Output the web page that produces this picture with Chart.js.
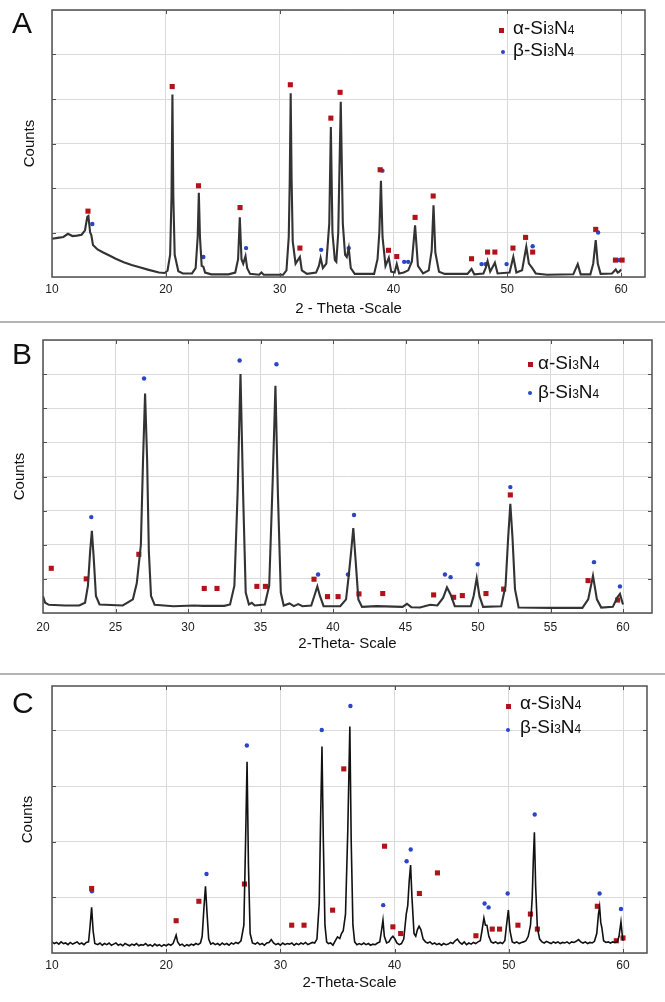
<!DOCTYPE html>
<html>
<head>
<meta charset="utf-8">
<script src="https://cdn.jsdelivr.net/npm/chart.js@4/dist/chart.umd.min.js"></script>
<style>
  body { margin: 0; background: #fff; }
  #wrap { position: relative; width: 665px; height: 1002px; background: #fff; font-family: "Liberation Sans", Arial, sans-serif; }
  canvas { position: absolute; left: 0; }
  .sep { position: absolute; left: 0; width: 665px; height: 2px; background: #b4b4b4; }
  .panel { position: absolute; left: 12px; font-size: 30px; line-height: 30px; color: #111; }
  .leg { position: absolute; font-size: 19px; line-height: 20px; color: #111; white-space: nowrap; }
  .leg small { font-size: 12px; }
  .sq { position: absolute; width: 5px; height: 5px; background: #b3121a; }
  .dot { position: absolute; width: 4px; height: 4px; border-radius: 50%; background: #2a45c8; }
</style>
</head>
<body>
<div id="wrap">
  <canvas id="chartA" width="665" height="322" style="top:0"></canvas>
  <div class="sep" style="top:321px"></div>
  <canvas id="chartB" width="665" height="351" style="top:323px"></canvas>
  <div class="sep" style="top:673px"></div>
  <canvas id="chartC" width="665" height="327" style="top:675px"></canvas>

  <div class="panel" style="top:8px">A</div>
  <div class="panel" style="top:339px">B</div>
  <div class="panel" style="top:688px">C</div>

  <div class="sq" style="left:499px;top:28px"></div>
  <div class="leg" style="left:513px;top:18px">α-Si<small>3</small>N<small>4</small></div>
  <div class="dot" style="left:501px;top:50px"></div>
  <div class="leg" style="left:513px;top:40px">β-Si<small>3</small>N<small>4</small></div>

  <div class="sq" style="left:528px;top:362px"></div>
  <div class="leg" style="left:538px;top:353px">α-Si<small>3</small>N<small>4</small></div>
  <div class="dot" style="left:528px;top:391px"></div>
  <div class="leg" style="left:538px;top:382px">β-Si<small>3</small>N<small>4</small></div>

  <div class="sq" style="left:506px;top:704px"></div>
  <div class="leg" style="left:520px;top:693px">α-Si<small>3</small>N<small>4</small></div>
  <div class="dot" style="left:506px;top:728px"></div>
  <div class="leg" style="left:520px;top:717px">β-Si<small>3</small>N<small>4</small></div>
</div>
<script>
// Panel A pattern (2theta, counts in grid units)
const curveA = [
  [10.0,0.86],[10.5,0.88],[11.0,0.9],[11.4,0.97],[11.8,0.92],[12.2,0.93],[12.6,0.95],[12.9,1.05],
  [13.1,1.35],[13.2,1.37],[13.35,1.0],[13.45,0.95],[13.6,0.72],[14.0,0.62],[14.5,0.55],[15.0,0.49],
  [15.6,0.41],[16.3,0.33],[17.0,0.27],[17.7,0.22],[18.5,0.16],[19.4,0.1],[19.9,0.09],
  [20.15,0.14],[20.38,0.5],[20.5,1.8],[20.58,4.1],[20.66,1.8],[20.78,0.5],[21.1,0.13],[21.5,0.08],[22.3,0.08],
  [22.62,0.2],[22.8,0.9],[22.9,1.89],[23.0,0.9],[23.15,0.25],[23.3,0.23],[23.45,0.1],[24.0,0.06],[25.5,0.06],
  [26.1,0.1],[26.35,0.4],[26.5,1.34],[26.65,0.4],[26.8,0.3],[27.0,0.47],[27.15,0.2],[27.4,0.07],
  [28.2,0.05],[28.4,0.1],[28.6,0.05],[30.3,0.05],
  [30.6,0.15],[30.8,0.9],[30.89,2.2],[30.97,4.13],[31.05,2.2],[31.15,0.8],[31.4,0.3],[31.78,0.45],[31.95,0.15],
  [32.4,0.07],[33.2,0.1],[33.45,0.25],[33.6,0.43],[33.8,0.2],[34.1,0.3],[34.36,1.2],[34.5,3.37],[34.64,1.0],
  [34.85,0.38],[34.98,0.34],[35.15,1.0],[35.37,3.94],[35.55,1.2],[35.75,0.5],[35.9,0.45],[36.07,0.65],
  [36.25,0.2],[36.6,0.07],[38.3,0.07],[38.6,0.4],[38.76,1.0],[38.9,2.16],[39.04,0.9],[39.3,0.25],[39.59,0.43],
  [39.8,0.12],[40.1,0.1],[40.29,0.29],[40.5,0.08],[40.9,0.1],[41.3,0.15],[41.62,0.35],[41.9,1.16],[42.15,0.25],
  [42.6,0.08],[43.1,0.15],[43.36,0.6],[43.52,1.61],[43.68,0.55],[44.0,0.12],[44.5,0.07],[46.5,0.07],
  [46.86,0.18],[47.1,0.06],[47.9,0.08],[48.1,0.2],[48.27,0.36],[48.5,0.12],[48.91,0.32],[49.15,0.08],
  [50.2,0.1],[50.53,0.45],[50.8,0.1],[51.3,0.15],[51.67,0.68],[51.9,0.3],[52.2,0.2],[52.5,0.08],[53.5,0.05],
  [55.8,0.06],[56.19,0.29],[56.45,0.06],[57.3,0.06],[57.55,0.3],[57.77,0.83],[57.95,0.3],[58.2,0.07],
  [59.2,0.08],[59.53,0.17],[59.7,0.1],[59.85,0.12],[60.0,0.17]
];
const alphaA = [
  [13.16,1.48],[20.56,4.28],[22.87,2.05],[26.52,1.56],[30.94,4.32],[31.78,0.65],[34.5,3.57],[35.31,4.15],
  [38.83,2.41],[39.56,0.6],[40.29,0.46],[41.9,1.34],[43.49,1.82],[46.86,0.41],[48.27,0.56],[48.91,0.56],
  [50.5,0.65],[51.61,0.89],[52.23,0.56],[57.77,1.07],[59.5,0.38],[60.09,0.38]
];
const betaA = [
  [13.54,1.19],[23.3,0.45],[27.05,0.65],[33.65,0.61],[36.07,0.65],[39.03,2.39],[40.94,0.34],[41.29,0.34],
  [47.74,0.29],[48.09,0.29],[49.94,0.29],[52.23,0.69],[57.98,1.0],[59.8,0.38]
];

// Panel B
const curveB = [
  [20.0,0.49],[20.15,0.3],[20.4,0.24],[21.5,0.22],[22.5,0.22],[22.9,0.3],[23.1,0.8],[23.25,1.8],[23.37,2.41],
  [23.5,1.6],[23.65,0.5],[23.9,0.25],[25.5,0.22],[26.2,0.4],[26.47,0.88],[26.75,2.0],[26.9,4.5],[27.04,6.43],
  [27.18,4.5],[27.3,1.8],[27.45,0.5],[27.7,0.24],[29.0,0.2],[30.4,0.22],[31.0,0.21],[32.5,0.21],[32.9,0.25],
  [33.2,0.8],[33.42,3.5],[33.62,7.0],[33.8,3.5],[33.98,0.6],[34.2,0.25],[34.4,0.3],[34.6,0.22],[35.3,0.25],
  [35.6,0.8],[35.85,4.0],[36.03,6.66],[36.2,3.5],[36.4,0.6],[36.6,0.22],[37.0,0.28],[37.3,0.2],[37.6,0.26],
  [37.9,0.2],[38.5,0.22],[38.75,0.55],[38.92,0.78],[39.1,0.5],[39.35,0.2],[40.5,0.2],[40.9,0.4],[41.08,1.07],
  [41.25,1.8],[41.4,2.49],[41.55,1.6],[41.75,0.4],[42.0,0.18],[43.0,0.2],[44.8,0.18],[45.1,0.27],[45.4,0.17],
  [46.0,0.16],[46.7,0.24],[47.2,0.22],[47.6,0.45],[47.86,0.75],[48.1,0.55],[48.4,0.2],[49.5,0.2],[49.7,0.5],
  [49.91,1.02],[50.1,0.5],[50.35,0.18],[51.6,0.2],[51.9,0.8],[52.08,2.2],[52.23,3.2],[52.38,2.2],[52.55,0.7],
  [52.8,0.16],[55.0,0.15],[57.2,0.15],[57.6,0.4],[57.93,1.09],[58.2,0.4],[58.5,0.16],[59.3,0.18],[59.6,0.45],
  [59.79,0.56],[60.0,0.25]
];
const alphaB = [
  [20.57,1.31],[22.98,1.0],[26.61,1.72],[31.12,0.72],[32.0,0.72],[34.75,0.78],[35.34,0.78],[38.69,0.99],
  [39.62,0.48],[40.35,0.48],[41.79,0.56],[43.43,0.57],[46.94,0.53],[48.32,0.46],[48.92,0.51],[50.55,0.57],
  [51.77,0.7],[52.23,3.46],[57.59,0.95],[59.63,0.38]
];
const betaB = [
  [23.33,2.81],[26.97,6.87],[33.56,7.4],[36.1,7.29],[38.97,1.13],[41.03,1.13],[41.45,2.87],[47.72,1.13],
  [48.11,1.05],[49.98,1.43],[52.23,3.69],[58.0,1.49],[59.79,0.78]
];

// Panel C (noisy scan)
const curveC = [
  [10.0,0.2],[10.2,0.17],[10.4,0.19],[10.6,0.16],[10.8,0.2],[11.0,0.17],[11.2,0.18],[11.4,0.15],[11.6,0.19],
  [11.8,0.16],[12.0,0.18],[12.2,0.2],[12.4,0.16],[12.6,0.18],[12.8,0.15],[13.0,0.19],[13.2,0.2],[13.32,0.45],
  [13.47,0.82],[13.6,0.4],[13.75,0.17],[14.0,0.15],[14.2,0.18],[14.4,0.14],[14.6,0.17],[14.8,0.15],[15.0,0.18],
  [15.2,0.14],[15.4,0.16],[15.6,0.18],[15.8,0.14],[16.0,0.16],[16.2,0.13],[16.4,0.17],[16.6,0.15],[16.8,0.13],
  [17.0,0.16],[17.2,0.14],[17.4,0.17],[17.6,0.13],[17.8,0.15],[18.0,0.14],[18.2,0.17],[18.4,0.13],[18.6,0.15],
  [18.8,0.12],[19.0,0.16],[19.2,0.13],[19.4,0.15],[19.6,0.12],[19.8,0.15],[20.0,0.13],[20.2,0.16],[20.4,0.14],
  [20.6,0.17],[20.75,0.25],[20.87,0.32],[21.0,0.2],[21.2,0.14],[21.4,0.16],[21.6,0.12],[21.8,0.15],[22.0,0.13],
  [22.2,0.16],[22.4,0.14],[22.6,0.17],[22.8,0.15],[23.0,0.18],[23.15,0.3],[23.3,0.8],[23.44,1.2],[23.58,0.7],
  [23.72,0.25],[23.9,0.16],[24.1,0.18],[24.3,0.15],[24.5,0.17],[24.7,0.14],[24.9,0.18],[25.1,0.15],[25.3,0.17],
  [25.5,0.14],[25.7,0.18],[25.9,0.16],[26.1,0.19],[26.3,0.17],[26.55,0.22],[26.8,0.5],[26.95,2.0],[27.08,3.44],
  [27.2,1.6],[27.35,0.35],[27.55,0.18],[27.8,0.16],[28.0,0.19],[28.2,0.15],[28.4,0.17],[28.6,0.14],[28.8,0.18],
  [29.0,0.19],[29.2,0.24],[29.4,0.18],[29.6,0.15],[29.8,0.17],[30.0,0.14],[30.2,0.18],[30.4,0.15],[30.6,0.17],
  [30.8,0.16],[31.0,0.18],[31.2,0.14],[31.4,0.17],[31.6,0.15],[31.8,0.18],[32.0,0.16],[32.2,0.19],[32.4,0.15],
  [32.6,0.17],[32.8,0.19],[33.0,0.18],[33.2,0.25],[33.4,0.9],[33.52,2.4],[33.64,3.71],[33.76,2.0],[33.9,0.5],
  [34.05,0.2],[34.2,0.17],[34.4,0.18],[34.6,0.14],[34.8,0.22],[35.0,0.29],[35.2,0.26],[35.35,0.35],[35.5,0.4],
  [35.7,0.7],[35.9,2.2],[36.08,4.07],[36.2,2.0],[36.35,0.5],[36.5,0.2],[36.7,0.15],[36.9,0.17],[37.1,0.15],
  [37.3,0.18],[37.5,0.15],[37.7,0.17],[37.9,0.14],[38.1,0.16],[38.3,0.15],[38.5,0.18],[38.7,0.2],[38.85,0.4],
  [38.98,0.59],[39.1,0.3],[39.3,0.18],[39.5,0.2],[39.7,0.27],[39.85,0.3],[40.0,0.26],[40.2,0.18],[40.4,0.15],
  [40.6,0.17],[40.8,0.25],[41.02,0.7],[41.15,0.85],[41.28,1.3],[41.4,1.58],[41.52,1.0],[41.7,0.35],[41.85,0.3],
  [42.0,0.42],[42.14,0.48],[42.3,0.42],[42.5,0.25],[42.7,0.2],[42.9,0.18],[43.1,0.2],[43.3,0.16],[43.5,0.18],
  [43.7,0.15],[43.9,0.17],[44.1,0.14],[44.3,0.17],[44.5,0.15],[44.7,0.16],[44.9,0.19],[45.1,0.17],[45.3,0.22],
  [45.5,0.25],[45.7,0.19],[45.9,0.16],[46.1,0.2],[46.3,0.15],[46.5,0.18],[46.7,0.16],[46.9,0.19],[47.1,0.17],
  [47.3,0.2],[47.5,0.22],[47.65,0.4],[47.82,0.63],[47.95,0.5],[48.08,0.5],[48.25,0.3],[48.45,0.2],[48.65,0.18],
  [48.85,0.2],[49.05,0.17],[49.25,0.19],[49.45,0.17],[49.65,0.22],[49.8,0.5],[49.96,0.77],[50.1,0.4],[50.3,0.2],
  [50.5,0.18],[50.7,0.2],[50.9,0.17],[51.1,0.19],[51.3,0.2],[51.5,0.22],[51.7,0.3],[51.9,0.5],[52.05,1.0],
  [52.15,1.7],[52.24,2.17],[52.35,1.2],[52.5,0.45],[52.7,0.25],[52.9,0.2],[53.1,0.18],[53.3,0.21],[53.5,0.19],
  [53.7,0.17],[53.9,0.2],[54.1,0.18],[54.3,0.2],[54.5,0.17],[54.7,0.19],[54.9,0.18],[55.1,0.2],[55.3,0.17],
  [55.5,0.2],[55.7,0.19],[55.9,0.21],[56.1,0.24],[56.3,0.2],[56.5,0.18],[56.7,0.2],[56.9,0.17],[57.1,0.19],
  [57.3,0.18],[57.5,0.21],[57.7,0.35],[57.85,0.7],[57.95,0.83],[58.05,0.55],[58.15,0.45],[58.3,0.22],[58.5,0.19],
  [58.7,0.2],[58.9,0.18],[59.1,0.2],[59.3,0.19],[59.5,0.2],[59.65,0.3],[59.82,0.56],[59.92,0.35],[60.0,0.22]
];
const alphaC = [
  [13.47,1.16],[20.87,0.58],[22.86,0.93],[26.85,1.24],[30.99,0.5],[32.07,0.5],[34.57,0.77],[35.55,3.31],
  [39.12,1.92],[39.85,0.47],[40.53,0.35],[42.17,1.07],[43.75,1.44],[47.12,0.31],[48.55,0.43],[49.19,0.43],
  [50.8,0.5],[51.89,0.7],[52.5,0.43],[57.75,0.84],[59.41,0.22],[60.0,0.27]
];
const betaC = [
  [13.5,1.11],[23.53,1.42],[27.06,3.73],[33.62,4.01],[36.13,4.44],[39.0,0.86],[41.05,1.65],[41.41,1.86],
  [47.88,0.89],[48.23,0.82],[49.9,1.07],[52.27,2.49],[57.95,1.07],[59.82,0.79]
];

const RED = '#b3121a';
const BLUE = '#2a45c8';
const GRID = '#dadada';

function pts(list) {
  return list.map(p => ({ x: p[0], y: p[1] }));
}

// plot frame + short inner ticks on all four sides
const framePlugin = {
  id: 'frame',
  afterDraw(chart) {
    const a = chart.chartArea;
    const ctx = chart.ctx;
    const sx = chart.scales.x, sy = chart.scales.y;
    ctx.save();
    ctx.strokeStyle = '#505050';
    ctx.lineWidth = 1.5;
    ctx.strokeRect(a.left, a.top, a.right - a.left, a.bottom - a.top);
    ctx.lineWidth = 1;
    ctx.beginPath();
    sx.ticks.forEach(t => {
      const px = Math.round(sx.getPixelForValue(t.value)) + 0.5;
      if (px <= a.left + 2 || px >= a.right - 2) return;
      ctx.moveTo(px, a.bottom); ctx.lineTo(px, a.bottom - 4);
      ctx.moveTo(px, a.top); ctx.lineTo(px, a.top + 4);
    });
    sy.ticks.forEach(t => {
      const py = Math.round(sy.getPixelForValue(t.value)) + 0.5;
      if (py <= a.top + 2 || py >= a.bottom - 2) return;
      ctx.moveTo(a.left, py); ctx.lineTo(a.left + 4, py);
      ctx.moveTo(a.right, py); ctx.lineTo(a.right - 4, py);
    });
    ctx.stroke();
    ctx.restore();
  }
};

function makePanel(id, o) {
  new Chart(document.getElementById(id), {
    type: 'scatter',
    data: {
      datasets: [
        { type: 'line', data: pts(o.curve), borderColor: o.lineColor, borderWidth: o.lineWidth,
          pointRadius: 0, fill: false, tension: 0 },
        { data: pts(o.alpha), pointStyle: 'rect', pointRadius: 3.6, backgroundColor: RED,
          borderWidth: 0 },
        { data: pts(o.beta), pointStyle: 'circle', pointRadius: 2.2, backgroundColor: BLUE,
          borderWidth: 0 }
      ]
    },
    options: {
      responsive: false,
      devicePixelRatio: 1,
      animation: false,
      layout: { padding: { top: o.top, right: o.right, left: 0, bottom: 0 } },
      plugins: { legend: { display: false }, tooltip: { enabled: false } },
      scales: {
        x: {
          type: 'linear', min: o.xMin, max: o.xMax,
          ticks: { stepSize: o.xStep, includeBounds: false, padding: o.tickPad, color: '#222',
                   font: { family: 'Liberation Sans', size: 12 } },
          grid: { color: GRID, drawTicks: false },
          border: { display: false },
          title: { display: true, text: o.xTitle, color: '#111',
                   font: { family: 'Liberation Sans', size: 15 },
                   padding: { top: 0, bottom: o.xTitlePad } },
          afterFit: s => { s.height = o.xHeight; }
        },
        y: {
          min: 0, max: o.yMax,
          ticks: { display: false, stepSize: 1, includeBounds: false },
          grid: { color: GRID, drawTicks: false },
          border: { display: false },
          title: { display: true, text: 'Counts', color: '#111',
                   font: { family: 'Liberation Sans', size: 15 },
                   padding: { top: o.yTitlePad, bottom: 0 } },
          afterFit: s => { s.width = o.left; }
        }
      }
    },
    plugins: [framePlugin]
  });
}

makePanel('chartA', {
  curve: curveA, alpha: alphaA, beta: betaA, lineColor: '#333', lineWidth: 2.1,
  xMin: 10, xMax: 62.1, xStep: 10, yMax: 6, xTitle: '2 - Theta -Scale',
  top: 10, right: 20, left: 52, xHeight: 45, tickPad: 5, xTitlePad: 4, yTitlePad: 21
});

makePanel('chartB', {
  curve: curveB, alpha: alphaB, beta: betaB, lineColor: '#333', lineWidth: 2.1,
  xMin: 20, xMax: 62, xStep: 5, yMax: 8, xTitle: '2-Theta- Scale',
  top: 17, right: 13, left: 43, xHeight: 61, tickPad: 7, xTitlePad: 21, yTitlePad: 11
});

makePanel('chartC', {
  curve: curveC, alpha: alphaC, beta: betaC, lineColor: '#111', lineWidth: 1.6,
  xMin: 10, xMax: 62.1, xStep: 10, yMax: 4.8, xTitle: '2-Theta-Scale',
  top: 11, right: 18, left: 52, xHeight: 49, tickPad: 5, xTitlePad: 10, yTitlePad: 19
});
</script>
</body>
</html>
